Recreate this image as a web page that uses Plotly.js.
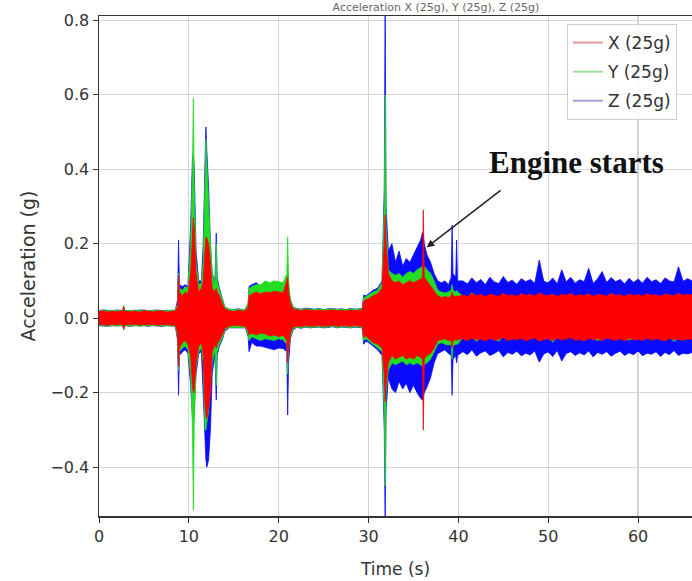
<!DOCTYPE html>
<html>
<head>
<meta charset="utf-8">
<script src="https://cdn.plot.ly/plotly-3.0.1.min.js"></script>
<style>html,body{margin:0;padding:0;background:#fff;}#chart{width:692px;height:581px;}</style>
</head>
<body>
<div id="chart"></div>
<script>
// Envelope samples (seconds): upper / lower extent of each trace
const time = [
  0,0.5,1,1.5,2,2.5,2.65,2.75,2.85,3.5,4,4.5,5,5.5,6,6.5,7,7.5,8,8.5,
  8.75,8.85,8.95,9.3,9.6,9.9,10.2,10.4,10.5,10.6,10.8,11.1,11.4,11.6,11.8,11.9,12.0,12.2,12.4,12.6,12.9,13.05,13.15,13.4,13.7,14.0,
  14.5,15,15.5,16,16.3,
  16.6,16.7,17.0,17.5,18.0,18.5,19.0,19.5,20.0,20.5,20.9,21.0,21.1,21.3,21.6,
  22,22.5,23,23.5,24,24.5,25,25.5,26,26.5,27,27.5,28,28.5,29,29.3,
  29.45,29.7,30.0,30.5,31.0,31.5,31.75,31.85,31.95,32.2,32.6,33.0,33.4,33.8,34.2,34.6,35.0,35.4,35.8,36.0,36.1,36.2,36.5,36.9,37.3,37.7,38.1,38.5,38.9,39.2,39.3,39.4,39.7,39.8,39.9,
  40.5,41,41.5,42,42.5,43,43.5,44,44.5,45,45.5,46,46.5,
  47,47.5,48,48.5,49,49.5,50,50.5,51,51.5,52,52.5,53,
  53.5,54,54.5,55,55.5,56,56.5,57,57.5,58,58.5,59,59.5,
  60,60.5,61,61.5,62,62.5,63,63.5,64,64.5,65,65.5,66
];

const xHigh = [
  .018,.020,.016,.019,.017,.020,.018,.032,.018,.017,.019,.016,.020,.018,.017,.019,.020,.016,.019,.020,
  .030,.115,.070,.060,.070,.065,.120,.250,.270,.240,.120,.070,.080,.100,.200,.218,.215,.200,.150,.080,.070,.080,.070,.060,.040,.025,
  .020,.018,.021,.019,.020,
  .030,.060,.065,.070,.065,.070,.068,.072,.070,.068,.100,.110,.070,.040,.025,
  .022,.020,.023,.021,.020,.022,.019,.021,.022,.020,.021,.019,.022,.020,.021,.022,
  .045,.050,.052,.060,.065,.080,.200,.277,.200,.120,.100,.095,.100,.090,.095,.100,.095,.100,.105,.110,.290,.110,.100,.090,.075,.060,.055,.058,.055,.060,.070,.060,.058,.060,.058,
  .062,.058,.066,.060,.064,.057,.065,.061,.059,.067,.060,.063,.058,
  .066,.061,.064,.059,.068,.062,.060,.065,.058,.064,.061,.067,.059,
  .063,.060,.066,.058,.064,.062,.059,.067,.061,.063,.058,.065,.060,
  .064,.059,.066,.061,.063,.058,.065,.062,.060,.067,.061,.064,.062
];
const xLow = [
  -.016,-.018,-.019,-.017,-.018,-.016,-.018,-.030,-.017,-.018,-.016,-.019,-.017,-.018,-.016,-.019,-.017,-.018,-.018,-.019,
  -.040,-.130,-.080,-.065,-.060,-.070,-.100,-.180,-.200,-.190,-.120,-.075,-.065,-.100,-.230,-.260,-.270,-.240,-.200,-.090,-.070,-.080,-.070,-.060,-.045,-.028,
  -.022,-.019,-.020,-.021,-.022,
  -.035,-.045,-.040,-.045,-.040,-.042,-.048,-.045,-.050,-.045,-.060,-.120,-.080,-.040,-.025,
  -.021,-.023,-.020,-.022,-.021,-.020,-.022,-.021,-.019,-.022,-.020,-.021,-.022,-.020,-.021,-.022,
  -.050,-.048,-.055,-.065,-.070,-.080,-.150,-.225,-.180,-.120,-.100,-.110,-.105,-.100,-.110,-.105,-.110,-.100,-.105,-.110,-.300,-.110,-.100,-.095,-.080,-.060,-.058,-.055,-.060,-.060,-.080,-.060,-.058,-.060,-.058,
  -.055,-.060,-.053,-.058,-.056,-.061,-.054,-.059,-.057,-.052,-.060,-.055,-.058,
  -.054,-.061,-.056,-.053,-.062,-.057,-.055,-.060,-.054,-.058,-.056,-.052,-.059,
  -.057,-.061,-.054,-.058,-.055,-.060,-.053,-.057,-.059,-.055,-.061,-.054,-.058,
  -.056,-.060,-.053,-.059,-.055,-.057,-.061,-.054,-.058,-.056,-.060,-.055,-.057
];

const yHigh = [
  .020,.022,.019,.021,.020,.022,.021,.034,.020,.020,.022,.019,.021,.020,.020,.022,.021,.019,.022,.021,
  .040,.120,.080,.075,.085,.080,.200,.400,.590,.350,.150,.090,.095,.150,.400,.480,.420,.300,.200,.120,.090,.200,.100,.075,.050,.030,
  .024,.022,.024,.023,.023,
  .040,.080,.085,.090,.090,.100,.095,.100,.098,.095,.120,.218,.100,.050,.030,
  .025,.023,.026,.024,.023,.025,.022,.024,.025,.023,.024,.022,.025,.023,.024,.025,
  .055,.058,.062,.070,.075,.095,.300,.600,.250,.130,.120,.115,.120,.110,.120,.125,.120,.130,.135,.140,.140,.140,.130,.120,.100,.075,.070,.068,.070,.075,.090,.075,.070,.075,.070,
  .060,.056,.068,.058,.062,.055,.063,.059,.057,.065,.058,.061,.056,
  .064,.059,.062,.057,.066,.060,.058,.063,.056,.062,.059,.065,.057,
  .061,.058,.064,.056,.062,.060,.057,.065,.059,.061,.056,.063,.058,
  .062,.057,.064,.059,.061,.056,.063,.060,.058,.065,.059,.062,.060
];
const yLow = [
  -.018,-.020,-.022,-.019,-.021,-.019,-.020,-.032,-.020,-.021,-.019,-.022,-.020,-.021,-.019,-.021,-.020,-.021,-.020,-.022,
  -.050,-.140,-.090,-.080,-.075,-.085,-.150,-.300,-.515,-.280,-.130,-.090,-.080,-.120,-.300,-.300,-.280,-.250,-.200,-.120,-.085,-.180,-.090,-.070,-.055,-.032,
  -.025,-.023,-.024,-.025,-.025,
  -.045,-.060,-.050,-.055,-.060,-.055,-.058,-.060,-.055,-.058,-.070,-.150,-.080,-.050,-.030,
  -.024,-.026,-.023,-.025,-.024,-.023,-.025,-.024,-.022,-.025,-.023,-.024,-.025,-.023,-.024,-.025,
  -.060,-.055,-.060,-.070,-.080,-.090,-.250,-.450,-.200,-.140,-.120,-.125,-.120,-.115,-.125,-.120,-.125,-.120,-.125,-.130,-.130,-.125,-.120,-.110,-.090,-.070,-.065,-.070,-.072,-.070,-.110,-.075,-.070,-.070,-.070,
  -.053,-.058,-.051,-.062,-.054,-.059,-.052,-.057,-.061,-.050,-.058,-.053,-.056,
  -.052,-.059,-.054,-.051,-.060,-.055,-.053,-.064,-.052,-.056,-.054,-.050,-.057,
  -.055,-.059,-.052,-.056,-.059,-.058,-.051,-.055,-.057,-.053,-.059,-.058,-.056,
  -.054,-.058,-.051,-.057,-.053,-.055,-.059,-.052,-.062,-.054,-.058,-.053,-.055
];

const zHigh = [
  .020,.022,.021,.020,.022,.021,.020,.030,.021,.020,.021,.020,.022,.020,.021,.022,.020,.021,.022,.021,
  .050,.210,.090,.085,.090,.085,.250,.430,.443,.400,.180,.100,.100,.200,.420,.513,.450,.350,.200,.120,.100,.228,.110,.080,.055,.030,
  .024,.023,.025,.023,.024,
  .040,.085,.090,.095,.085,.090,.090,.095,.090,.088,.100,.120,.080,.050,.030,
  .026,.024,.027,.025,.024,.026,.023,.025,.026,.024,.025,.023,.026,.024,.025,.026,
  .062,.060,.065,.075,.080,.100,.350,.850,.300,.180,.200,.150,.180,.140,.160,.150,.170,.190,.210,.230,.220,.200,.170,.150,.120,.100,.095,.100,.090,.110,.250,.120,.110,.210,.100,
  .100,.092,.108,.095,.104,.090,.110,.097,.093,.112,.096,.102,.091,
  .106,.098,.104,.094,.156,.099,.095,.108,.092,.130,.097,.110,.094,
  .103,.098,.134,.093,.106,.125,.096,.109,.098,.104,.092,.107,.096,
  .105,.094,.110,.098,.103,.093,.108,.100,.097,.138,.099,.106,.100
];
const zLow = [
  -.020,-.021,-.022,-.020,-.021,-.020,-.021,-.028,-.020,-.022,-.020,-.021,-.020,-.022,-.020,-.021,-.022,-.020,-.021,-.022,
  -.060,-.207,-.100,-.090,-.085,-.095,-.180,-.260,-.280,-.250,-.150,-.095,-.090,-.200,-.330,-.380,-.400,-.380,-.300,-.150,-.095,-.220,-.100,-.075,-.060,-.035,
  -.026,-.024,-.025,-.026,-.026,
  -.050,-.090,-.065,-.075,-.075,-.080,-.082,-.085,-.080,-.082,-.090,-.260,-.120,-.055,-.032,
  -.025,-.027,-.024,-.026,-.025,-.024,-.026,-.025,-.023,-.026,-.024,-.025,-.026,-.024,-.025,-.026,
  -.070,-.062,-.065,-.075,-.085,-.100,-.300,-.550,-.250,-.160,-.190,-.200,-.170,-.190,-.175,-.200,-.180,-.200,-.215,-.220,-.210,-.200,-.185,-.160,-.120,-.095,-.090,-.085,-.095,-.100,-.207,-.110,-.100,-.120,-.100,
  -.090,-.098,-.085,-.102,-.093,-.088,-.100,-.095,-.087,-.104,-.092,-.097,-.089,
  -.101,-.094,-.099,-.088,-.118,-.096,-.091,-.103,-.087,-.115,-.095,-.090,-.100,
  -.093,-.099,-.088,-.104,-.092,-.097,-.090,-.102,-.094,-.089,-.100,-.093,-.098,
  -.088,-.101,-.094,-.097,-.090,-.103,-.092,-.098,-.087,-.100,-.094,-.096,-.092
];

const seriesNames = ['X (25g)', 'Y (25g)', 'Z (25g)'];
const seriesColors = ['#ff0000', '#22dd22', '#0a0aff'];
const legendColors = ['#e39a9a', '#9ee09e', '#a3a3d6'];
const xTicks = [0, 10, 20, 30, 40, 50, 60];
const yTicks = [-0.4, -0.2, 0.0, 0.2, 0.4, 0.6, 0.8];

const envelopes = [[xHigh, xLow], [yHigh, yLow], [zHigh, zLow]];

function band(i) {
  const hi = envelopes[i][0], lo = envelopes[i][1];
  const xs = time.concat(time.slice().reverse());
  const ys = hi.concat(lo.slice().reverse());
  return {
    type: 'scatter', mode: 'lines', x: xs, y: ys,
    fill: 'toself', fillcolor: seriesColors[i],
    line: {color: seriesColors[i], width: 0.8},
    name: seriesNames[i], showlegend: false, hoverinfo: 'skip'
  };
}

const traces = [band(2), band(1), band(0)];
for (let i = 0; i < 3; i++) {
  traces.push({type: 'scatter', mode: 'lines', x: [null], y: [null], name: seriesNames[i],
    legendgroup: 'g' + i, line: {color: legendColors[i], width: 2}, showlegend: true});
}

const layout = {
  width: 692, height: 581,
  margin: {l: 99, r: 0, t: 16, b: 65},
  paper_bgcolor: '#ffffff', plot_bgcolor: '#ffffff',
  font: {family: 'DejaVu Sans, sans-serif', size: 16, color: '#333333'},
  title: {text: 'Acceleration X (25g), Y (25g), Z (25g)', x: 0.63, xanchor: 'center',
          yref: 'container', y: 0.995, yanchor: 'top', font: {size: 11, color: '#666666'}},
  showlegend: true,
  legend: {x: 0.789, y: 0.984, xanchor: 'left', yanchor: 'top', traceorder: 'grouped',
           bgcolor: 'rgba(255,255,255,0.85)', bordercolor: '#cccccc', borderwidth: 1,
           font: {size: 17, color: '#333333'}, itemwidth: 30, tracegroupgap: 4},
  xaxis: {range: [0, 66.0], tickmode: 'array', tickvals: xTicks, ticks: 'outside', ticklen: 5,
          tickcolor: '#333333', showgrid: true, gridcolor: '#d4d4d4', gridwidth: 1.2,
          showline: true, linecolor: '#333333', linewidth: 1.5, mirror: true, zeroline: false,
          tickfont: {size: 16}, title: {text: 'Time (s)', font: {size: 17}, standoff: 18}},
  yaxis: {range: [-0.531, 0.811], tickmode: 'array', tickvals: yTicks, tickformat: '.1f',
          ticks: 'outside', ticklen: 5, tickcolor: '#333333', showgrid: true, gridcolor: '#d4d4d4',
          gridwidth: 1.2, showline: true, linecolor: '#333333', linewidth: 1.5, zeroline: false,
          tickfont: {size: 16}, title: {text: 'Acceleration (g)', font: {size: 19}, standoff: 10}},
  annotations: [
    {x: 53.2, y: 0.419, xref: 'x', yref: 'y', text: '<b>Engine starts</b>', showarrow: false,
     xanchor: 'center', yanchor: 'middle',
     font: {family: 'Liberation Serif, Times New Roman, serif', size: 31, color: '#111111'}},
    {x: 36.48, y: 0.19, xref: 'x', yref: 'y', ax: 44.86, ay: 0.346, axref: 'x', ayref: 'y',
     text: '', showarrow: true, arrowhead: 2, arrowsize: 1, arrowwidth: 1.5, arrowcolor: '#222222'}
  ]
};

Plotly.newPlot('chart', traces, layout, {staticPlot: true, displayModeBar: false});
</script>
</body>
</html>
